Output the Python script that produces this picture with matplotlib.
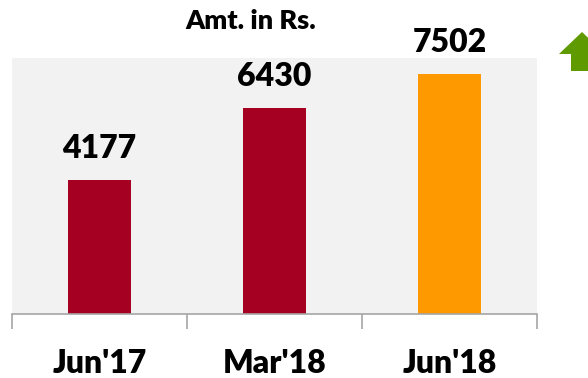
import matplotlib.pyplot as plt
from matplotlib.patches import Polygon

# amounts per period
periods = ["Jun'17", "Mar'18", "Jun'18"]
amounts = [4177, 6430, 7502]
bar_colors = ["#A50021", "#A50021", "#FF9900"]

plt.rcParams['font.family'] = ['Lato', 'DejaVu Sans']

fig = plt.figure(figsize=(5.88, 3.78), dpi=100)
ax = fig.add_axes([12 / 588, 64 / 378, 525 / 588, 256 / 378])
ax.set_facecolor("#F2F2F2")

x = range(len(periods))
bars = ax.bar(x, amounts, width=0.36, color=bar_colors, zorder=2)
for b, v in zip(bars, amounts):
    ax.annotate(str(v), (b.get_x() + b.get_width() / 2, v),
                xytext=(0, 16), textcoords="offset points",
                ha="center", va="baseline", fontsize=23, fontweight="heavy")

ax.set_xlim(-0.5, len(periods) - 0.5)
ax.set_ylim(0, 8000)
ax.set_yticks([])

# category labels centred, tick marks on the boundaries
ax.set_xticks(list(x))
ax.set_xticklabels(periods, fontsize=23, fontweight="heavy")
ax.tick_params(axis="x", which="major", length=0, pad=25)
ax.set_xticks([i - 0.5 for i in range(len(periods) + 1)], minor=True)
ax.tick_params(axis="x", which="minor", length=11, width=1.2, color="#A6A6A6")

for s in ["top", "left", "right"]:
    ax.spines[s].set_visible(False)
ax.spines["bottom"].set_color("#A6A6A6")
ax.spines["bottom"].set_linewidth(1.2)

fig.text(251 / 588, 1 - 21 / 378, "Amt. in Rs.", ha="center", va="center",
         fontsize=19.5, fontweight="heavy")

# green up arrow at the right edge
arrow = [(559, 54), (582, 32), (605, 54), (594, 54), (594, 71), (571, 71), (571, 54)]
fig.patches.append(Polygon([(px / 588, 1 - py / 378) for px, py in arrow],
                           closed=True, transform=fig.transFigure,
                           facecolor="#5F9A00", edgecolor="none"))

fig.savefig("out.png", dpi=100)
